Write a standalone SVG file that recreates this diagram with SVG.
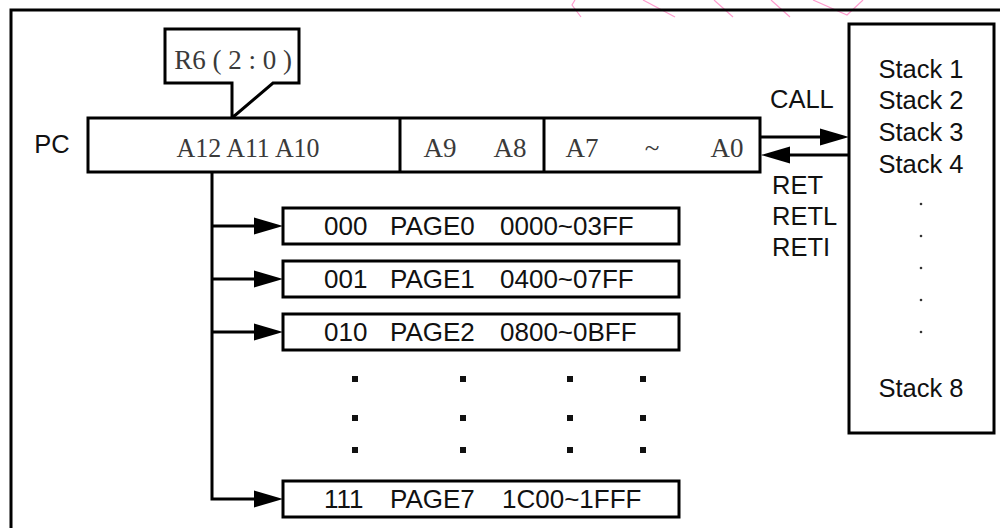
<svg xmlns="http://www.w3.org/2000/svg" xmlns:xlink="http://www.w3.org/1999/xlink" width="1000" height="528" viewBox="0 0 1000 528">
<style>
.box{fill:#fff;stroke:#000;stroke-width:3}
.ln{fill:none;stroke:#000;stroke-width:3}
.serif{font-family:"Liberation Serif","Times New Roman",serif;font-size:27px;fill:#3a3a3a}
.sans{font-family:"Liberation Sans",Arial,sans-serif;font-size:25.5px;fill:#111}
.pg{font-family:"Liberation Sans",Arial,sans-serif;font-size:26px;fill:#111}
.pink{fill:none;stroke:#ff9ccf;stroke-width:1.2}
.dot{fill:#111}
.sdot{fill:#333}
</style>
<defs>
<path id="ahR" d="M0,0 L-29,-8.5 L-29,8.5 Z" fill="#000"/>
<path id="ahL" d="M0,0 L29,-8.5 L29,8.5 Z" fill="#000"/>
</defs>
<rect width="1000" height="528" fill="#fff"/>
<g id="decor">
<polyline class="pink" points="575,0 572,5 581,17"/>
<line class="pink" x1="643" y1="0" x2="675" y2="17"/>
<line class="pink" x1="714" y1="0" x2="733" y2="17"/>
<line class="pink" x1="771" y1="0" x2="790" y2="17"/>
<polyline class="pink" points="813,0 847,15 863,0"/>
</g>
<rect id="frame" x="11" y="10" width="1000" height="530" class="ln"/>

<g id="connectors">
<polyline class="ln" points="212,172 212,499 254,499"/>
<line class="ln" x1="212" y1="226" x2="254" y2="226"/>
<line class="ln" x1="212" y1="279" x2="254" y2="279"/>
<line class="ln" x1="212" y1="332" x2="254" y2="332"/>
<use xlink:href="#ahR" x="283" y="226"/>
<use xlink:href="#ahR" x="283" y="279"/>
<use xlink:href="#ahR" x="283" y="332"/>
<use xlink:href="#ahR" x="283" y="499"/>
<line class="ln" x1="760" y1="137" x2="821" y2="137"/>
<use xlink:href="#ahR" x="849" y="137"/>
<line class="ln" x1="789" y1="155" x2="849" y2="155"/>
<use xlink:href="#ahL" x="761" y="155"/>
<text class="sans" x="770" y="108">CALL</text>
<text class="sans" x="772" y="194">RET</text>
<text class="sans" x="772" y="225">RETL</text>
<text class="sans" x="772" y="256">RETI</text>
</g>

<g id="r6">
<polygon class="box" points="165,29 299,29 299,83 273,83 232,118 232,83 165,83"/>
<text class="serif" x="233" y="69" text-anchor="middle">R6 ( 2 : 0 )</text>
</g>

<g id="pc">
<text class="sans" x="52" y="153" text-anchor="middle" font-size="24">PC</text>
<rect class="box" x="88" y="118" width="672" height="54"/>
<line class="ln" x1="400" y1="118" x2="400" y2="172"/>
<line class="ln" x1="544" y1="118" x2="544" y2="172"/>
<text class="serif" x="248" y="157" text-anchor="middle" textLength="143" lengthAdjust="spacingAndGlyphs">A12 A11 A10</text>
<text class="serif" x="440" y="157" text-anchor="middle">A9</text>
<text class="serif" x="510" y="157" text-anchor="middle">A8</text>
<text class="serif" x="582" y="157" text-anchor="middle">A7</text>
<text class="serif" x="652" y="157" text-anchor="middle">~</text>
<text class="serif" x="727" y="157" text-anchor="middle">A0</text>
</g>

<g id="page0">
<rect class="box" x="283" y="208" width="396" height="36"/>
<text class="pg" x="324" y="235">000</text>
<text class="pg" x="390" y="235">PAGE0</text>
<text class="pg" x="500" y="235">0000~03FF</text>
</g>
<g id="page1">
<rect class="box" x="283" y="261" width="396" height="36"/>
<text class="pg" x="324" y="288">001</text>
<text class="pg" x="390" y="288">PAGE1</text>
<text class="pg" x="500" y="288">0400~07FF</text>
</g>
<g id="page2">
<rect class="box" x="283" y="314" width="396" height="36"/>
<text class="pg" x="324" y="341">010</text>
<text class="pg" x="390" y="341">PAGE2</text>
<text class="pg" x="500" y="341">0800~0BFF</text>
</g>
<g id="ellipsis">
<rect class="dot" x="352" y="376" width="6" height="6"/>
<rect class="dot" x="460" y="376" width="6" height="6"/>
<rect class="dot" x="567" y="376" width="6" height="6"/>
<rect class="dot" x="640" y="376" width="6" height="6"/>
<rect class="dot" x="352" y="415" width="6" height="6"/>
<rect class="dot" x="460" y="415" width="6" height="6"/>
<rect class="dot" x="567" y="415" width="6" height="6"/>
<rect class="dot" x="640" y="415" width="6" height="6"/>
<rect class="dot" x="352" y="447" width="6" height="6"/>
<rect class="dot" x="460" y="447" width="6" height="6"/>
<rect class="dot" x="567" y="447" width="6" height="6"/>
<rect class="dot" x="640" y="447" width="6" height="6"/>
</g>
<g id="page7">
<rect class="box" x="283" y="481" width="396" height="36"/>
<text class="pg" x="324" y="508">111</text>
<text class="pg" x="390" y="508">PAGE7</text>
<text class="pg" x="502" y="508">1C00~1FFF</text>
</g>

<g id="stack">
<rect class="box" x="849" y="24" width="145" height="409"/>
<text class="sans" x="921" y="78" text-anchor="middle">Stack 1</text>
<text class="sans" x="921" y="109" text-anchor="middle">Stack 2</text>
<text class="sans" x="921" y="141" text-anchor="middle">Stack 3</text>
<text class="sans" x="921" y="173" text-anchor="middle">Stack 4</text>
<circle class="sdot" cx="921" cy="204" r="1.3"/>
<circle class="sdot" cx="921" cy="236" r="1.3"/>
<circle class="sdot" cx="921" cy="268" r="1.3"/>
<circle class="sdot" cx="921" cy="300" r="1.3"/>
<circle class="sdot" cx="921" cy="332" r="1.3"/>
<text class="sans" x="921" y="397" text-anchor="middle">Stack 8</text>
</g>
</svg>
